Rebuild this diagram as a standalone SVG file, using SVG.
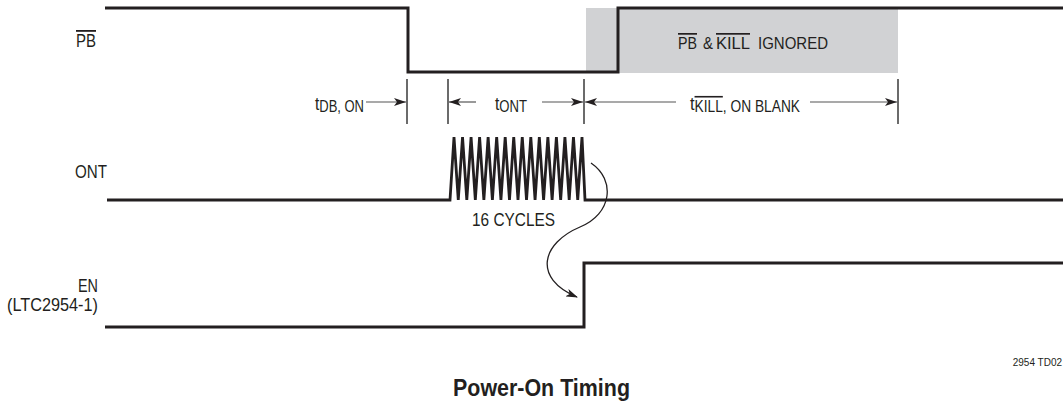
<svg xmlns="http://www.w3.org/2000/svg" width="1063" height="407" viewBox="0 0 1063 407">
<defs>
<style>
.sig{fill:none;stroke:#231f20;stroke-width:3;stroke-linejoin:miter}
.zz{fill:none;stroke:#231f20;stroke-width:2.8;stroke-linejoin:miter;stroke-miterlimit:2}
.tick{stroke:#3a3a3a;stroke-width:1.5}
.dim{stroke:#555;stroke-width:1.2;fill:none}
text{font-family:"Liberation Sans Narrow","Liberation Sans",Arial,sans-serif;fill:#231f20}
.lbl{font-size:18px}
.g{font-size:17px}
.t{font-size:19px}
.sub{font-size:16px}
.ob{text-decoration:overline}
</style>
<marker id="ah" viewBox="0 0 12 8" refX="12" refY="4" markerWidth="12" markerHeight="8" markerUnits="userSpaceOnUse" orient="auto">
<path d="M0,0 L12,4 L0,8 L3,4 z" fill="#231f20"/>
</marker>
<marker id="ah2" viewBox="0 0 12 8" refX="11" refY="4" markerWidth="12" markerHeight="8" markerUnits="userSpaceOnUse" orient="auto">
<path d="M0,0 L12,4 L0,8 L3,4 z" fill="#231f20"/>
</marker>
</defs>
<rect id="ignored-zone" x="586" y="8" width="312" height="65" fill="#d1d2d4"/>
<g id="pb">
<path class="sig" d="M105,8 H408 V72 H618 V8 H1063"/>
<text class="lbl ob" x="76" y="47" textLength="20" lengthAdjust="spacingAndGlyphs">PB</text>
<text class="g ob" x="678" y="49" textLength="19" lengthAdjust="spacingAndGlyphs">PB</text>
<text class="g" x="703" y="49" textLength="10" lengthAdjust="spacingAndGlyphs">&amp;</text>
<text class="g ob" x="716" y="49" textLength="34" lengthAdjust="spacingAndGlyphs">KILL</text>
<text class="g" x="758" y="49" textLength="70" lengthAdjust="spacingAndGlyphs">IGNORED</text>
</g>
<g id="ont">
<path class="zz" d="M107,200 H450 L454,137 L458.27,200 L462.53,137 L466.8,200 L471.07,137 L475.33,200 L479.6,137 L483.87,200 L488.13,137 L492.4,200 L496.67,137 L500.93,200 L505.2,137 L509.47,200 L513.73,137 L518,200 L522.27,137 L526.53,200 L530.8,137 L535.07,200 L539.33,137 L543.6,200 L547.87,137 L552.13,200 L556.4,137 L560.67,200 L564.93,137 L569.2,200 L573.47,137 L577.73,200 L582,137 L585,200 H1063"/>
<text class="lbl" x="75" y="178" textLength="32" lengthAdjust="spacingAndGlyphs">ONT</text>
<text class="lbl" x="472" y="226" textLength="83" lengthAdjust="spacingAndGlyphs">16 CYCLES</text>
</g>
<g id="en">
<path class="sig" d="M105,327 H584 V263 H1063"/>
<text class="lbl" x="78" y="292" textLength="20" lengthAdjust="spacingAndGlyphs">EN</text>
<text class="lbl" x="7" y="311" textLength="91" lengthAdjust="spacingAndGlyphs">(LTC2954-1)</text>
</g>
<g id="connectors">
<line class="tick" x1="407" y1="79" x2="407" y2="124"/>
<line class="tick" x1="448" y1="79" x2="448" y2="124"/>
<line class="tick" x1="584" y1="79" x2="584" y2="124"/>
<line class="tick" x1="898" y1="79" x2="898" y2="124"/>
<line class="dim" x1="366" y1="102" x2="406" y2="102" marker-end="url(#ah)"/>
<line class="dim" x1="476" y1="102" x2="449" y2="102" marker-end="url(#ah)"/>
<line class="dim" x1="542" y1="102" x2="583" y2="102" marker-end="url(#ah)"/>
<line class="dim" x1="676" y1="102" x2="585" y2="102" marker-end="url(#ah)"/>
<line class="dim" x1="810" y1="102" x2="897" y2="102" marker-end="url(#ah)"/>
<path d="M591,163 C616,180 612,214 580,227 C542,243 532,278 577,297" fill="none" stroke="#231f20" stroke-width="1.3" marker-end="url(#ah2)"/>
</g>
<g id="timing-labels">
<text class="t" x="315" y="110" textLength="49" lengthAdjust="spacingAndGlyphs">t<tspan class="sub" dy="2">DB, ON</tspan></text>
<text class="t" x="495" y="110" textLength="32" lengthAdjust="spacingAndGlyphs">t<tspan class="sub" dy="2">ONT</tspan></text>
<text class="t" transform="translate(690,110) scale(0.86,1)">t<tspan class="sub ob" dy="2">KILL</tspan><tspan class="sub">, ON BLANK</tspan></text>
</g>
<text x="1062" y="366" font-size="10" text-anchor="end">2954 TD02</text>
<text x="453" y="396" font-size="24" font-weight="bold" textLength="177" lengthAdjust="spacingAndGlyphs">Power-On Timing</text>
</svg>
